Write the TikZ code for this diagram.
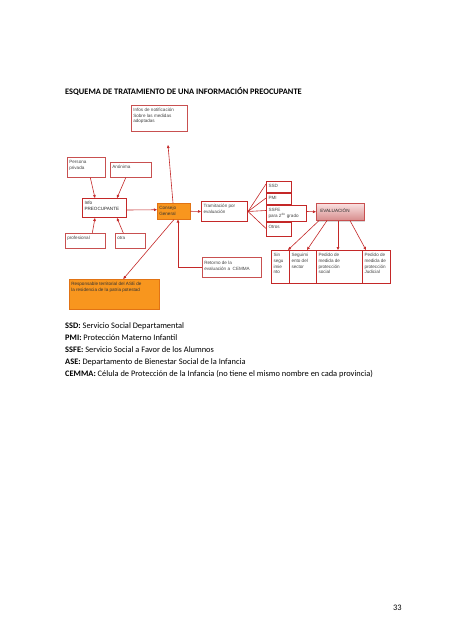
\documentclass[tikz,border=0pt]{standalone}
\usepackage{fontspec}
\setmainfont{Carlito}
\newfontfamily\lblfont{Liberation Sans}
\usetikzlibrary{arrows.meta,calc,shadows}
\definecolor{boxred}{RGB}{196,40,40}
\definecolor{lightred}{RGB}{200,80,80}
\definecolor{txtgray}{RGB}{70,70,70}
\definecolor{orangefill}{RGB}{248,150,30}
\definecolor{orangeedge}{RGB}{225,115,20}
\definecolor{evaltop}{RGB}{250,225,225}
\definecolor{evalbot}{RGB}{215,140,140}
\newcommand{\boxtxt}[3]{\parbox[c][#2pt][t]{#1pt}{\raggedright\vspace{1pt}#3}}
\tikzset{
  base/.style={anchor=north west, inner sep=2pt, fill=white, text=txtgray,
    font=\lblfont\fontsize{4.6}{5.6}\selectfont},
  thinbox/.style={base, draw=lightred, line width=0.6pt},
  thickbox/.style={base, draw=boxred, line width=1.0pt},
  orangebox/.style={base, draw=orangeedge, line width=0.5pt, fill=orangefill, text=black!80,
    drop shadow={shadow xshift=1pt, shadow yshift=-1.2pt, fill=black!35}},
  evalbox/.style={base, draw=lightred, line width=0.6pt, top color=evaltop, bottom color=evalbot,
    text=black!85, drop shadow={shadow xshift=1pt, shadow yshift=-1.2pt, fill=black!30}},
  arr/.style={draw=boxred, line width=0.6pt, -{Triangle[length=3pt,width=2.6pt]}},
  ln/.style={draw=boxred, line width=0.6pt},
}
\begin{document}
\begin{tikzpicture}[x=1pt,y=-1pt]
\useasboundingbox (0,0) rectangle (452,640);
\fill[white] (0,0) rectangle (452,640);

% title
\node[anchor=west, inner sep=0pt, font=\fontsize{8.4}{10}\selectfont\bfseries] (title) at (65,91)
  {ESQUEMA DE TRATAMIENTO DE UNA INFORMACIÓN PREOCUPANTE};

% boxes
\node[thinbox] (notif) at (131,105) {\boxtxt{52}{22}{Infos de notificación\\Sobre las medidas\\adoptadas}};
\node[thinbox] (persona) at (67,157) {\boxtxt{34}{16}{Persona\\privada}};
\node[thinbox] (anonima) at (110,162) {\boxtxt{37}{11}{Anónima}};
\node[thickbox] (info) at (82,198) {\boxtxt{40}{15}{\textcolor{black!85}{Info\\PREOCUPANTE}}};
\node[orangebox] (consejo) at (157,203) {\boxtxt{29}{12}{Consejo\\General}};
\node[thickbox] (tram) at (201,201) {\boxtxt{42}{16}{Tramitación por\\evaluación}};
\node[thickbox] (ssd) at (266,181) {\boxtxt{21}{7}{SSD}};
\node[thickbox] (pmi) at (266,193) {\boxtxt{21}{7}{PMI}};
\node[thickbox] (ssfe) at (266,205) {\boxtxt{36}{12}{SSFE\\para 2\textsuperscript{do} grado}};
\node[thickbox] (otros) at (266,222) {\boxtxt{21}{10}{Otros}};
\node[evalbox] (eval) at (316,203) {\boxtxt{44}{13}{\vspace{2pt}\hspace*{2pt}EVALUACIÓN}};
\node[thickbox] (sinseg) at (271,250) {\boxtxt{14}{29}{Sin\\segu\\imie\\nto}};
\node[thickbox] (segsec) at (289,250) {\boxtxt{23}{29}{Seguimi\\ento del\\sector}};
\node[thickbox] (pedsoc) at (316,250) {\boxtxt{42}{29}{Pedido de\\medida de\\protección\\social}};
\node[thickbox] (pedjud) at (362,250) {\boxtxt{24}{29}{Pedido de\\medida de\\protección\\Judicial}};
\node[thinbox] (retorno) at (202,257) {\boxtxt{55}{16}{\vspace{1pt}Retorno de la\\evaluación a\ \ CEMMA}};
\node[thinbox] (prof) at (65,233) {\boxtxt{36}{11}{profesional}};
\node[thinbox] (otra) at (115,233) {\boxtxt{26}{11}{otra}};
\node[orangebox] (resp) at (69,279) {\boxtxt{86}{26}{Responsable territorial del ASE de\\la residencia de la patria potestad}};

% connectors
\coordinate (notiftip) at (168,145);
\draw[arr] ($(consejo.north west)+(16,0)$) -- (notiftip);
\draw[arr] ($(persona.south)+(4,0)$) -- ($(info.north west)+(13,0)$);
\draw[arr] ($(anonima.south)+(-5,0)$) -- ($(info.north west)+(35,0)$);
\draw[arr] ($(prof.north)+(7,0)$) -- ($(info.south west)+(13,0)$);
\draw[arr] ($(otra.north)+(-7,0)$) -- ($(info.south west)+(35,0)$);
\draw[arr] ($(info.east)+(0,2)$) -- ($(consejo.west)+(0,-1.5)$);
\draw[arr] (consejo.east) -- (tram.west);
\draw[ln] (tram.east) -- ($(ssd.west)+(0,-3)$);
\draw[ln] (tram.east) -- ($(pmi.west)+(0,-1)$);
\draw[ln] (tram.east) -- ($(ssfe.west)+(0,-3)$);
\draw[ln] (tram.east) -- ($(otros.west)+(0,-1)$);
\draw[arr] ($(ssfe.east)+(0,-2)$) -- (eval.west);
\draw[arr] ($(eval.south west)+(3,0)$) -- ($(sinseg.north east)+(-2,0)$);
\draw[arr] ($(eval.south west)+(11,0)$) -- ($(segsec.north east)+(-10,0)$);
\draw[arr] ($(eval.south west)+(22,0)$) -- ($(pedsoc.north west)+(22,0)$);
\draw[arr] ($(eval.south west)+(34,0)$) -- ($(pedjud.north west)+(4,0)$);
\draw[arr] (retorno.west) -| ($(consejo.south west)+(21,0)$);
\draw[arr] ($(consejo.south west)+(17,0)$) -- ($(resp.north)+(9,0)$);

% legend
\node[anchor=north west, inner sep=0pt, align=left, font=\fontsize{8.4}{12}\selectfont] (legend) at (65,322)
  {\textbf{SSD:} Servicio Social Departamental\\
   \textbf{PMI:} Protección Materno Infantil\\
   \textbf{SSFE:} Servicio Social a Favor de los Alumnos\\
   \textbf{ASE:} Departamento de Bienestar Social de la Infancia\\
   \textbf{CEMMA:} Célula de Protección de la Infancia (no tiene el mismo nombre en cada provincia)};

\node[anchor=west, inner sep=0pt, font=\fontsize{8.4}{10}\selectfont] (pagenum) at (393,608) {33};
\end{tikzpicture}
\end{document}
